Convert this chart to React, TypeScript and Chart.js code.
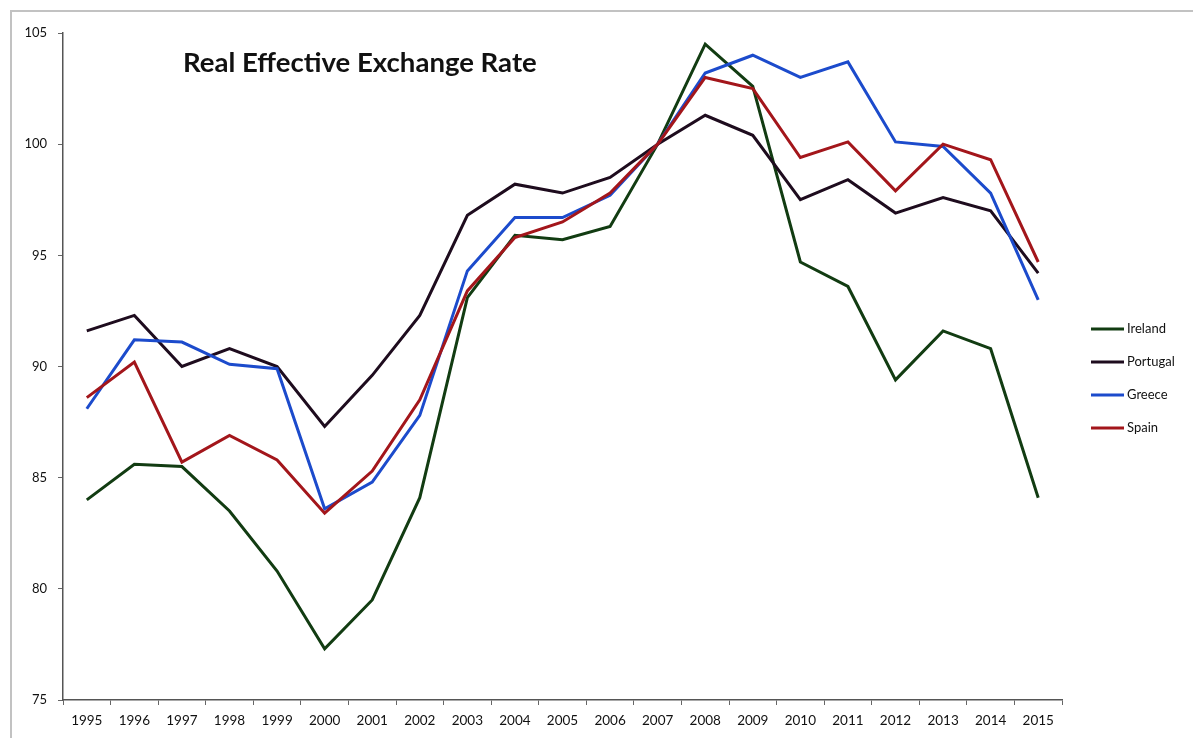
import React, { useEffect, useRef } from "react";
import { Chart, registerables } from "chart.js";

Chart.register(...registerables);

const years = ["1995","1996","1997","1998","1999","2000","2001","2002","2003","2004","2005","2006","2007","2008","2009","2010","2011","2012","2013","2014","2015"];
const ireland = [84.0, 85.6, 85.5, 83.5, 80.8, 77.3, 79.5, 84.1, 93.1, 95.9, 95.7, 96.3, 100.0, 104.5, 102.6, 94.7, 93.6, 89.4, 91.6, 90.8, 84.1];
const portugal = [91.6, 92.3, 90.0, 90.8, 90.0, 87.3, 89.6, 92.3, 96.8, 98.2, 97.8, 98.5, 100.0, 101.3, 100.4, 97.5, 98.4, 96.9, 97.6, 97.0, 94.2];
const greece = [88.1, 91.2, 91.1, 90.1, 89.9, 83.6, 84.8, 87.8, 94.3, 96.7, 96.7, 97.7, 100.0, 103.2, 104.0, 103.0, 103.7, 100.1, 99.9, 97.8, 93.0];
const spain = [88.6, 90.2, 85.7, 86.9, 85.8, 83.4, 85.3, 88.5, 93.4, 95.8, 96.5, 97.8, 100.0, 103.0, 102.5, 99.4, 100.1, 97.9, 100.0, 99.3, 94.7];
const seriesNames = ["Ireland", "Portugal", "Greece", "Spain"];
const seriesColors = ["#123c12", "#1e0c1e", "#1c4bcc", "#a3161b"];
const titleText = "Real Effective Exchange Rate";
const yMin = 75;
const yMax = 105;
const yStep = 5;

const FONT = "Lato, 'Open Sans', sans-serif";

const customPlugin = {
  id: "customDecor",
  afterDraw(chart: any) {
    const ctx = chart.ctx;
    const area = chart.chartArea;
    ctx.save();
    let size = 24;
    ctx.font = `bold ${size}px ${FONT}`;
    const w = ctx.measureText(titleText).width;
    size = (size * 354) / w;
    ctx.font = `bold ${size}px ${FONT}`;
    ctx.fillStyle = "#111";
    ctx.textBaseline = "middle";
    ctx.textAlign = "left";
    ctx.fillText(titleText, area.left + 120, area.top + 30);
    ctx.font = `13px ${FONT}`;
    chart.data.datasets.forEach((ds: any, i: number) => {
      const y = area.top + 296 + i * 33;
      const x0 = area.right + 29;
      ctx.strokeStyle = ds.borderColor;
      ctx.lineWidth = 3;
      ctx.beginPath();
      ctx.moveTo(x0, y);
      ctx.lineTo(x0 + 33, y);
      ctx.stroke();
      ctx.fillStyle = "#111";
      ctx.fillText(ds.label, x0 + 36, y);
    });
    ctx.restore();
  },
};

export default function App() {
  const ref = useRef<HTMLCanvasElement>(null);
  useEffect(() => {
    if (!ref.current) return;
    const values = [ireland, portugal, greece, spain];
    const chart = new Chart(ref.current, {
      type: "line",
      data: {
        labels: years,
        datasets: values.map((v, i) => ({
          label: seriesNames[i],
          data: v,
          borderColor: seriesColors[i],
          backgroundColor: seriesColors[i],
          borderWidth: 3,
          pointRadius: 0,
          tension: 0,
          order: 4 - i,
        })),
      },
      options: {
        responsive: false,
        animation: false,
        devicePixelRatio: 1,
        layout: { padding: { left: 0, top: 33, right: 131, bottom: 0 } },
        plugins: { legend: { display: false }, tooltip: { enabled: false }, title: { display: false } },
        scales: {
          x: {
            offset: true,
            grid: { offset: true, drawOnChartArea: false, drawTicks: true, tickLength: 5, color: "#666" },
            border: { display: true, color: "#555", width: 1.5 },
            ticks: { color: "#111", font: { family: FONT, size: 13.5 }, padding: 8, maxRotation: 0, autoSkip: false },
            afterFit: (s: any) => { s.height = 38; },
          },
          y: {
            min: yMin,
            max: yMax,
            grid: { drawOnChartArea: false, drawTicks: true, tickLength: 5, color: "#666" },
            border: { display: true, color: "#555", width: 1.5 },
            ticks: { stepSize: yStep, color: "#111", font: { family: FONT, size: 13 }, padding: 11 },
            afterFit: (s: any) => { s.width = 63; },
          },
        },
      },
      plugins: [customPlugin],
    });
    return () => chart.destroy();
  }, []);
  return (
    <div style={{ position: "absolute", left: 0, top: 0, width: 1193, height: 738, overflow: "hidden", background: "#fff" }}>
      <div style={{ position: "absolute", left: 10, top: 10, width: 1300, height: 900, borderTop: "2px solid #c2c2c2", borderLeft: "2px solid #c2c2c2" }} />
      <canvas ref={ref} width={1193} height={738} style={{ position: "absolute", left: 0, top: 0 }} />
    </div>
  );
}
